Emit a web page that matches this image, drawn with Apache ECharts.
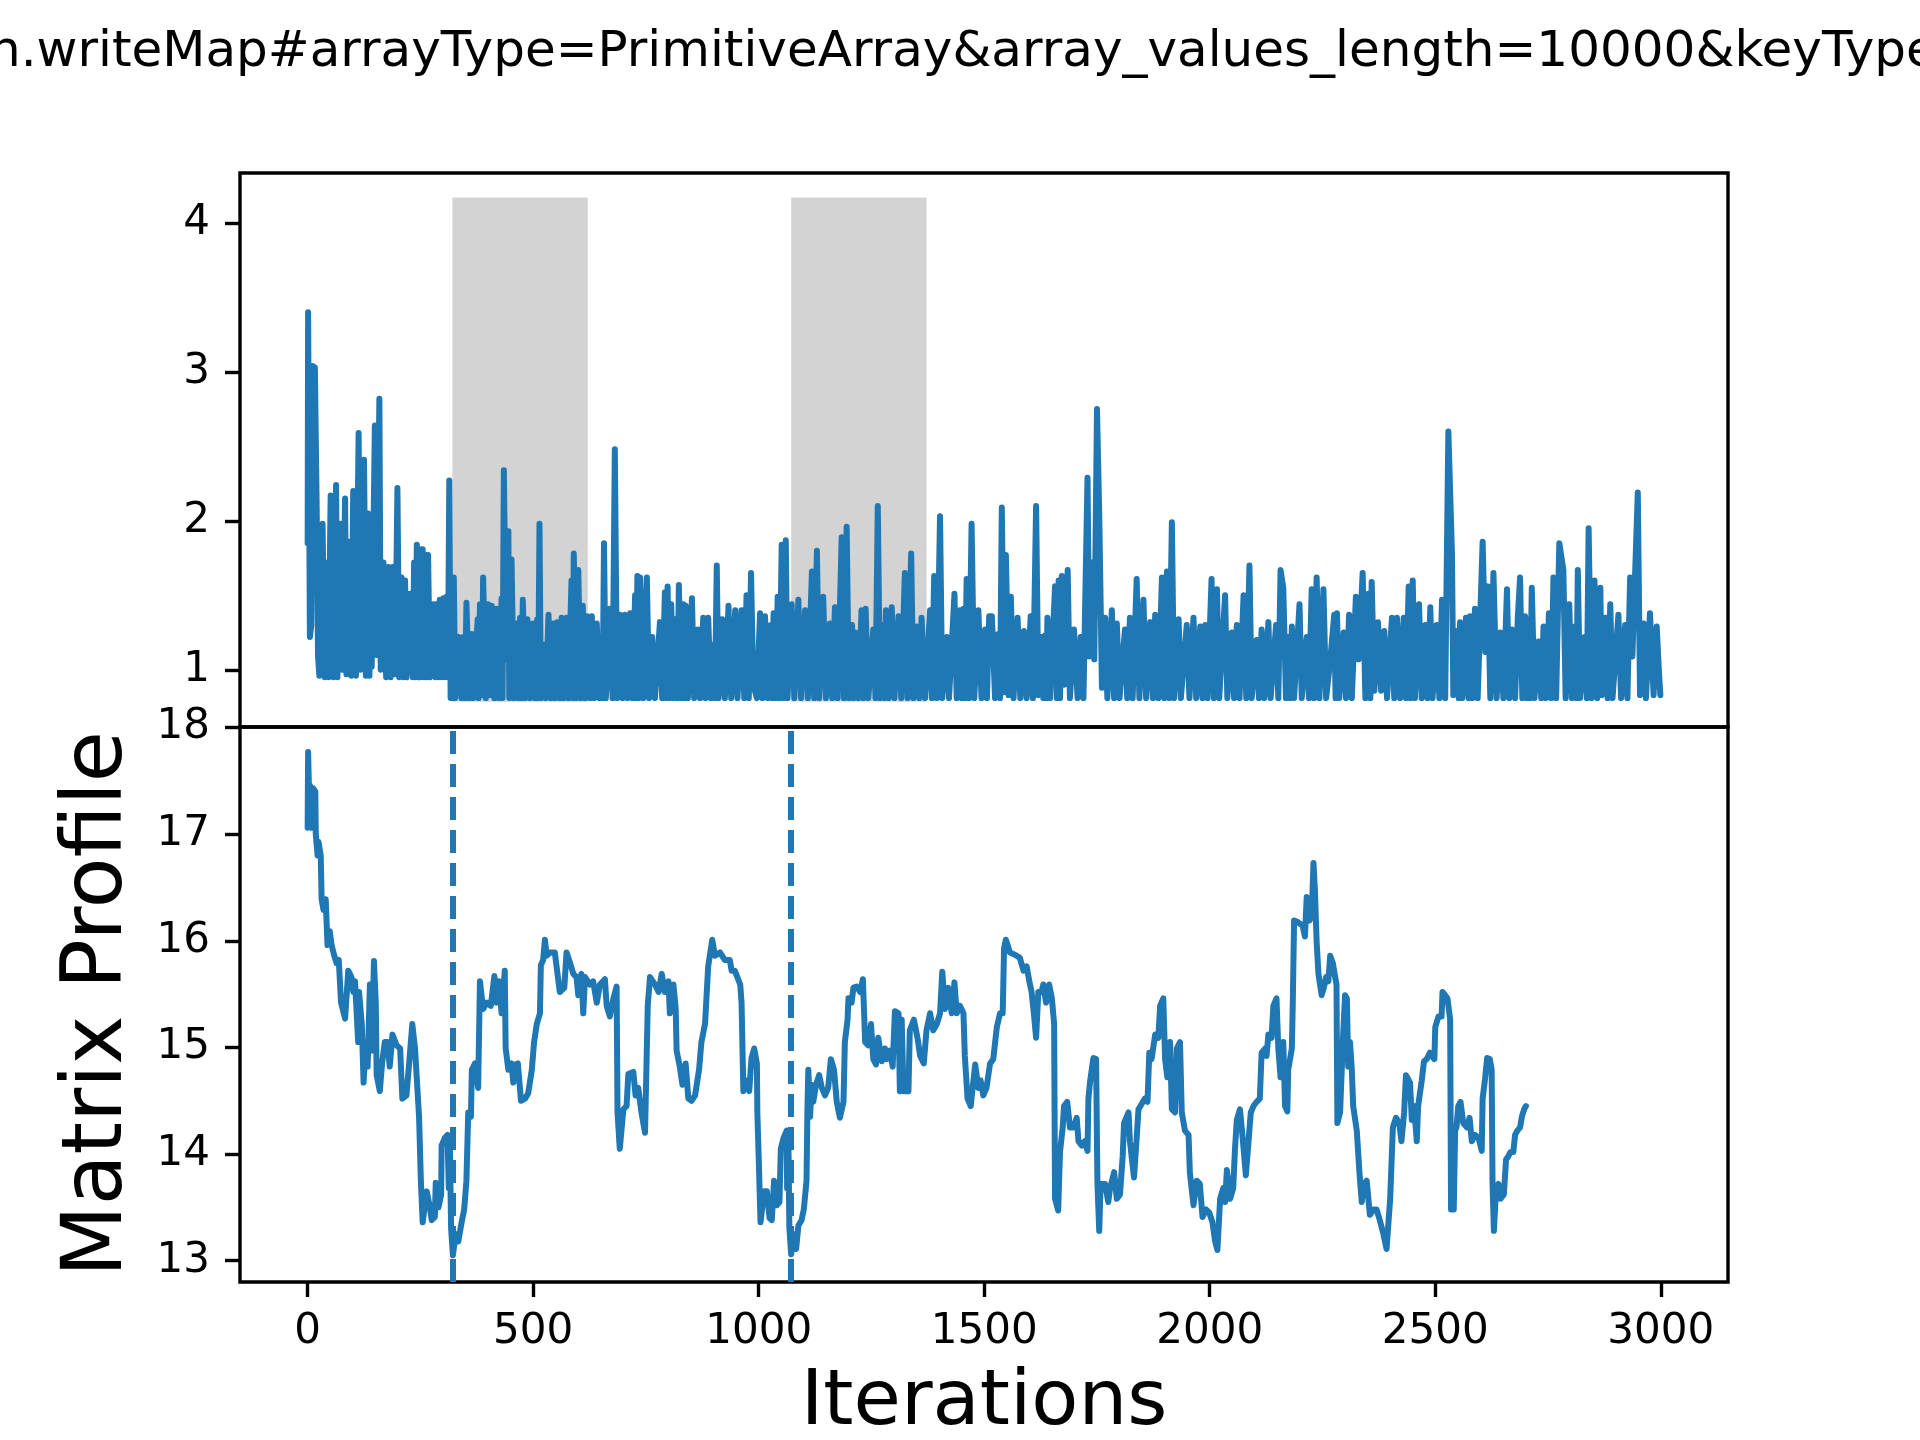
<!DOCTYPE html>
<html>
<head>
<meta charset="utf-8">
<title>Matrix Profile</title>
<script src="https://cdn.jsdelivr.net/npm/echarts/dist/echarts.min.js"></script>
<style>
  html, body { margin: 0; padding: 0; background: #fff; }
  #main { width: 1920px; height: 1440px; }
</style>
</head>
<body>
<div id="main"></div>
<script>
// visible part of the (clipped) figure title
const titleText = 'h.writeMap#arrayType=PrimitiveArray&array_values_length=10000&keyType';

// raw benchmark time series: [iteration, value]
const timeSeries = [
  [0,1.85],[1,3.40],[3,3.40],[5,1.22],[8,1.30],[11,3.04],[16,3.03],[20,2.09],[23,1.09],[26,0.96],
  [33,1.98],[38,0.95],[43,1.72],[46,0.95],[51,2.17],[57,0.95],[63,2.24],[66,0.95],[72,1.98],[77,1.00],
  [83,2.15],[86,0.97],[92,1.86],[97,0.96],[101,2.20],[107,0.96],[113,2.59],[117,1.00],[125,2.41],[129,0.96],
  [134,2.05],[137,0.96],[140,1.96],[142,1.02],[149,2.64],[153,1.10],[159,2.82],[162,1.00],[168,1.72],[174,0.95],
  [179,1.69],[184,0.95],[188,1.69],[194,0.97],[199,2.22],[203,0.95],[208,1.62],[212,0.95],[216,1.60],[219,0.95],
  [227,1.51],[233,0.95],[236,1.72],[239,0.95],[242,1.84],[245,0.95],[248,1.81],[250,0.95],[255,1.81],[258,0.95],
  [260,1.77],[264,0.95],[267,1.77],[271,0.95],[279,1.44],[283,0.95],[286,1.44],[290,0.95],[293,1.47],[297,0.95],
  [301,1.48],[304,0.95],[308,1.49],[311,0.95],[314,2.27],[317,0.81],
  [321,1.60],[322,0.81],[324,1.62],[327,0.81],[334,1.22],[341,0.81],[345,1.22],[349,0.81],[352,1.45],[358,0.81],
  [364,1.24],[367,0.81],[377,1.34],[379,0.81],[382,1.44],[386,0.83],[389,1.62],[395,0.81],[400,1.44],[404,0.83],
  [408,1.43],[414,0.81],[419,1.41],[424,0.81],[430,1.48],[432,0.81],[435,2.34],[440,1.07],[445,1.93],[447,0.81],
  [452,1.74],[457,0.81],[463,1.31],[467,0.81],[471,1.35],[474,0.81],[477,1.47],[482,0.81],[487,1.34],[493,0.81],
  [499,1.31],[504,0.81],[509,1.34],[511,0.81],[514,1.98],[517,0.81],[522,1.17],[528,0.81],[534,1.37],[539,0.81],
  [545,1.31],[548,0.81],[553,1.32],[559,0.81],[563,1.35],[567,0.81],[574,1.35],[578,0.81],[585,1.60],[587,0.81],
  [590,1.78],[595,0.81],[600,1.67],[605,0.81],[610,1.43],[615,0.81],[620,1.36],[626,0.81],[630,1.36],[635,0.81],
  [641,1.31],[647,0.81],[652,1.14],[654,0.81],[657,1.85],[661,0.81],[670,1.41],[676,0.81],[681,2.48],[686,0.81],
  [692,1.37],[698,0.81],[703,1.37],[709,0.81],[715,1.38],[720,0.81],[726,1.50],[728,0.81],[731,1.63],[734,0.81],
  [737,1.62],[744,0.81],
  [752,1.62],[757,0.81],[764,1.22],[770,0.81],[781,1.32],[786,0.81],[792,1.52],[795,0.81],[798,1.56],[802,0.81],
  [806,1.44],[811,0.81],[815,1.34],[820,0.81],[823,1.57],[828,0.81],[833,1.44],[835,0.81],[838,1.43],[843,0.81],
  [852,1.48],[857,0.81],[865,1.27],[870,0.81],[877,1.35],[882,0.81],[888,1.35],[894,0.81],[900,1.17],[903,0.81],
  [907,1.70],[911,0.81],[919,1.34],[925,0.81],[933,1.43],[939,0.81],[948,1.40],[953,0.81],[962,1.40],[968,0.81],
  [973,1.50],[978,0.81],[983,1.65],[988,0.90],[996,0.81],[1003,1.38],[1008,0.81],[1014,1.36],[1020,0.81],[1027,1.30],
  [1030,0.81],[1033,1.38],[1038,0.81],[1042,1.49],[1046,0.81],[1051,1.84],[1055,0.81],[1060,1.87],[1064,0.81],[1073,1.44],
  [1079,0.81],[1088,1.47],[1094,0.81],[1103,1.40],[1109,0.81],[1118,1.66],[1123,0.81],[1129,1.80],[1134,0.81],[1143,1.49],
  [1149,0.81],[1158,1.31],[1163,0.81],[1169,1.42],[1175,0.81],[1184,1.89],[1189,0.81],[1195,1.96],[1200,0.81],[1207,1.30],
  [1210,0.81],[1214,1.25],[1221,0.81],[1228,1.40],[1232,0.81],[1237,1.41],[1243,0.81],[1254,1.27],[1259,0.81],[1264,2.10],
  [1269,0.81],[1276,1.30],[1279,0.81],[1282,1.40],[1288,0.81],[1295,1.42],[1301,0.81],[1310,1.36],[1316,0.81],[1324,1.65],
  [1330,0.81],[1338,1.78],[1343,0.81],[1350,1.29],[1356,0.81],[1361,1.35],[1369,0.81],[1380,1.40],[1384,0.81],[1389,1.63],
  [1395,0.81],[1402,2.03],[1407,0.81],[1417,1.22],[1422,0.81],[1434,1.51],[1439,0.81],[1446,1.40],[1450,0.81],[1454,1.41],
  [1457,0.81],[1461,1.61],[1466,0.81],[1472,1.98],[1478,0.81],[1487,1.40],[1494,0.81],[1502,1.27],[1506,0.81],[1511,1.36],
  [1517,1.36],[1524,0.81],[1531,1.24],[1535,0.81],[1539,2.09],[1544,0.85],[1548,1.77],[1554,0.83],[1559,1.49],[1565,0.81],
  [1574,1.35],[1580,0.81],[1588,1.26],[1594,0.81],[1603,1.36],[1608,0.81],[1615,2.10],[1620,0.83],[1627,1.22],[1631,0.81],
  [1635,1.23],[1638,0.81],[1640,1.35],[1646,0.81],[1657,1.56],[1661,0.81],[1665,1.60],[1668,0.81],[1672,1.63],[1677,0.90],
  [1685,1.67],[1690,0.81],[1699,1.27],[1707,0.81],[1714,1.22],[1720,0.81],[1729,2.29],[1733,1.09],[1738,1.72],[1744,1.07],
  [1750,2.75],[1755,2.04],[1761,0.88],[1768,1.35],[1773,0.81],[1783,1.40],[1788,0.81],[1794,1.31],[1800,0.81],[1812,1.27],
  [1817,0.81],[1823,1.35],[1829,0.81],[1838,1.61],[1844,0.81],[1853,1.47],[1859,0.81],[1868,1.32],[1874,0.81],[1879,1.37],
  [1886,0.81],[1894,1.62],[1899,0.81],[1905,1.66],[1910,0.81],[1916,1.99],[1921,0.81],[1931,1.34],[1936,0.81],[1949,1.30],
  [1955,0.81],[1964,1.35],[1970,0.81],[1979,1.29],[1984,0.81],[1990,1.30],[1995,0.81],[2004,1.61],[2009,0.81],[2016,1.54],
  [2021,0.81],[2034,1.50],[2039,0.81],[2049,1.25],[2054,0.81],[2060,1.30],[2066,0.81],[2075,1.50],[2081,0.81],[2088,1.70],
  [2093,0.81],[2104,1.20],[2109,0.81],[2115,1.27],[2121,0.81],[2130,1.32],[2135,0.81],[2147,1.30],[2152,0.81],[2157,1.67],
  [2163,1.55],[2169,0.81],[2174,1.22],[2178,0.81],[2182,1.29],[2187,0.81],[2199,1.44],[2204,0.81],[2215,1.22],[2220,0.81],
  [2226,1.54],[2231,0.81],[2237,1.62],[2243,0.81],[2252,1.54],[2258,0.81],[2267,1.06],[2276,1.37],[2279,0.81],[2282,1.38],
  [2287,0.81],[2297,1.25],[2302,0.81],[2309,1.37],[2315,0.81],[2324,1.49],[2330,1.07],[2339,1.65],[2345,0.81],[2352,1.51],
  [2356,0.81],[2359,1.59],[2365,0.86],[2373,1.32],[2380,0.86],[2387,1.26],[2393,0.81],[2404,1.35],[2409,0.81],[2415,1.35],
  [2422,0.81],[2430,1.35],[2435,0.81],[2441,1.56],[2445,0.81],[2450,1.60],[2455,0.81],[2464,1.44],[2470,0.81],[2478,1.30],
  [2483,0.81],[2489,1.42],[2494,0.81],[2503,1.30],[2509,0.81],[2515,1.47],[2522,0.81],[2529,2.60],[2537,1.78],[2540,0.83],
  [2548,1.26],[2552,0.81],[2555,1.32],[2560,0.81],[2568,1.35],[2574,0.81],[2577,1.36],[2582,0.81],[2588,1.41],[2594,0.81],
  [2605,1.86],[2611,1.12],[2617,1.56],[2622,0.81],[2629,1.65],[2636,0.81],[2644,1.25],[2651,0.81],[2659,1.54],[2664,0.81],
  [2670,1.27],[2677,0.81],[2683,1.35],[2688,1.62],[2693,0.81],[2699,1.36],[2703,0.81],[2707,1.34],[2710,0.81],[2714,1.55],
  [2720,0.81],[2729,1.19],[2735,0.81],[2740,1.29],[2745,0.81],[2752,1.38],[2757,0.81],[2762,1.62],[2768,0.81],[2775,1.85],
  [2784,1.67],[2789,0.81],[2797,1.44],[2803,0.81],[2809,1.29],[2813,0.81],[2816,1.67],[2821,0.81],[2831,1.22],[2836,0.81],
  [2840,1.95],[2846,0.81],[2853,1.60],[2859,0.81],[2866,1.55],[2869,0.83],[2877,1.35],[2882,0.81],[2888,1.44],[2893,0.81],
  [2906,1.37],[2912,0.81],[2921,1.30],[2926,0.81],[2932,1.62],[2937,1.09],[2949,2.19],[2954,0.83],[2962,1.31],[2967,0.81],
  [2976,1.38],[2984,0.83],[2991,1.29],[2996,0.98],[2999,0.83]
];

// matrix profile of the series: [iteration, distance]
const matrixProfile = [
  [0,17.06],[1,17.77],[3,17.40],[5,17.46],[9,17.06],[12,17.43],[17,17.40],[18,17.00],[22,16.80],[24,16.93],
  [29,16.80],[31,16.39],[35,16.29],[40,16.39],[44,15.96],[49,16.09],[53,15.96],[59,15.86],[64,15.79],[69,15.82],
  [74,15.42],[83,15.27],[86,15.46],[90,15.72],[97,15.66],[101,15.52],[105,15.62],[112,15.05],[114,15.52],[120,15.22],
  [124,14.67],[129,15.05],[133,14.82],[138,15.59],[142,14.97],[147,15.81],[151,15.42],[153,14.74],[160,14.59],[165,14.85],
  [171,15.05],[177,15.05],[182,14.82],[188,15.12],[197,15.02],[205,14.99],[210,14.52],[219,14.55],[225,14.85],[232,15.22],
  [238,14.99],[247,14.35],[251,13.75],[255,13.36],[264,13.65],[271,13.50],[275,13.38],[282,13.41],[284,13.73],[290,13.50],
  [296,13.62],[297,14.08],[304,14.15],[310,14.18],[313,13.68],[315,14.15],[318,13.31],[322,13.05],[328,13.25],[334,13.18],
  [341,13.35],[347,13.48],[352,13.75],[356,14.39],[362,14.35],[364,14.79],[371,14.85],[378,14.62],[382,15.62],[389,15.36],
  [397,15.42],[406,15.39],[414,15.67],[419,15.42],[424,15.62],[430,15.32],[437,15.72],[439,14.99],[445,14.79],[452,14.85],
  [456,14.67],[461,14.84],[466,14.85],[473,14.50],[482,14.52],[489,14.57],[497,14.79],[502,15.05],[508,15.22],[515,15.32],
  [517,15.77],[522,15.82],[526,16.01],[530,15.86],[537,15.89],[548,15.89],[559,15.52],[569,15.56],[574,15.89],[582,15.79],
  [589,15.69],[596,15.66],[600,15.49],[607,15.69],[611,15.32],[615,15.66],[626,15.59],[633,15.62],[641,15.42],[648,15.59],
  [659,15.64],[663,15.39],[670,15.29],[678,15.46],[685,15.57],[687,14.39],[692,14.05],[700,14.42],[707,14.45],[711,14.75],
  [722,14.77],[727,14.55],[733,14.62],[740,14.39],[748,14.20],[754,15.39],[759,15.66],[770,15.59],[778,15.52],[785,15.69],
  [792,15.52],[800,15.62],[803,15.32],[811,15.59],[816,15.36],[818,14.97],[825,14.82],[831,14.65],[838,14.85],[844,14.52],
  [851,14.50],[859,14.55],[868,14.80],[873,15.05],[881,15.22],[888,15.76],[897,16.01],[903,15.86],[914,15.89],[925,15.82],
  [936,15.82],[940,15.72],[947,15.72],[959,15.59],[962,15.42],[966,14.59],[973,14.69],[979,14.59],[984,14.90],[990,14.99],
  [996,14.85],[997,14.39],[1001,13.82],[1004,13.36],[1012,13.65],[1018,13.65],[1024,13.40],[1029,13.38],[1034,13.75],[1040,13.52],
  [1046,13.55],[1049,14.05],[1055,14.15],[1062,14.22],[1063,13.68],[1066,14.08],[1068,13.31],[1072,13.06],[1077,13.25],[1083,13.11],
  [1088,13.33],[1095,13.38],[1100,13.48],[1106,13.75],[1108,14.42],[1110,14.79],[1114,14.35],[1117,14.65],[1121,14.49],[1127,14.65],
  [1134,14.74],[1140,14.62],[1147,14.55],[1154,14.62],[1160,14.89],[1167,14.79],[1173,14.49],[1180,14.34],[1188,14.49],[1191,15.05],
  [1197,15.26],[1199,15.46],[1206,15.42],[1210,15.56],[1217,15.57],[1225,15.52],[1231,15.64],[1236,15.05],[1243,15.02],[1249,15.22],
  [1254,14.89],[1260,14.84],[1265,15.09],[1273,14.87],[1280,14.99],[1284,14.89],[1291,14.97],[1297,14.82],[1302,15.34],[1310,15.32],
  [1313,14.59],[1317,15.26],[1321,14.59],[1332,14.59],[1335,15.16],[1344,15.26],[1352,15.09],[1358,14.92],[1366,14.85],[1372,15.16],
  [1380,15.32],[1387,15.16],[1395,15.22],[1402,15.32],[1407,15.71],[1413,15.36],[1420,15.56],[1428,15.32],[1434,15.61],[1439,15.32],
  [1446,15.39],[1454,15.32],[1457,14.92],[1463,14.52],[1470,14.45],[1480,14.84],[1487,14.62],[1492,14.69],[1498,14.55],[1505,14.62],
  [1513,14.85],[1520,14.89],[1528,15.19],[1535,15.32],[1541,15.32],[1544,15.93],[1548,16.01],[1557,15.89],[1568,15.87],[1579,15.84],
  [1587,15.72],[1594,15.76],[1600,15.62],[1605,15.52],[1610,15.32],[1615,15.09],[1620,15.52],[1627,15.52],[1631,15.59],[1637,15.42],
  [1644,15.59],[1650,15.46],[1655,15.22],[1657,13.58],[1664,13.47],[1668,14.02],[1674,14.25],[1677,14.45],[1684,14.49],[1690,14.25],
  [1698,14.25],[1705,14.34],[1709,14.12],[1716,14.08],[1723,14.12],[1729,14.03],[1731,14.52],[1735,14.69],[1742,14.90],[1748,14.89],
  [1751,13.72],[1755,13.28],[1758,13.72],[1768,13.72],[1775,13.55],[1779,13.68],[1788,13.83],[1794,13.58],[1801,13.62],[1807,13.98],
  [1810,14.29],[1816,14.35],[1820,14.39],[1823,14.12],[1832,13.78],[1838,14.15],[1842,14.42],[1849,14.47],[1856,14.52],[1862,14.49],
  [1866,14.95],[1871,14.89],[1879,15.12],[1886,15.09],[1890,15.39],[1897,15.46],[1901,14.89],[1906,14.72],[1912,15.05],[1916,14.42],
  [1923,14.39],[1927,14.99],[1934,15.05],[1938,14.39],[1945,14.22],[1953,14.18],[1956,13.82],[1964,13.52],[1971,13.75],[1978,13.72],
  [1984,13.41],[1992,13.48],[1999,13.45],[2006,13.36],[2012,13.18],[2017,13.10],[2023,13.58],[2030,13.68],[2034,13.55],[2038,13.85],
  [2045,13.58],[2052,13.68],[2056,14.05],[2060,14.32],[2067,14.42],[2073,14.15],[2080,13.80],[2086,14.12],[2091,14.39],[2097,14.45],
  [2104,14.49],[2111,14.52],[2115,14.95],[2123,14.99],[2126,14.92],[2130,15.12],[2137,15.09],[2141,15.39],[2148,15.46],[2152,14.99],
  [2157,14.72],[2163,15.05],[2167,14.45],[2172,14.40],[2174,14.79],[2182,14.99],[2184,15.39],[2187,16.19],[2193,16.18],[2200,16.16],
  [2206,16.14],[2211,16.04],[2215,16.41],[2221,16.19],[2226,16.23],[2230,16.73],[2233,16.49],[2237,15.99],[2241,15.69],[2248,15.49],
  [2253,15.56],[2258,15.66],[2263,15.62],[2267,15.86],[2273,15.79],[2278,15.66],[2281,15.59],[2283,14.29],[2289,14.39],[2295,15.05],
  [2300,15.49],[2304,15.46],[2307,14.82],[2311,15.05],[2315,14.79],[2318,14.45],[2326,14.22],[2332,13.82],[2337,13.55],[2342,13.72],
  [2348,13.75],[2355,13.43],[2363,13.48],[2370,13.48],[2377,13.38],[2385,13.25],[2392,13.11],[2400,13.58],[2406,14.25],[2413,14.34],
  [2420,14.29],[2425,14.12],[2431,14.39],[2435,14.74],[2444,14.67],[2448,14.32],[2453,14.45],[2459,14.12],[2462,14.45],[2470,14.69],
  [2475,14.87],[2481,14.89],[2488,14.95],[2498,14.89],[2500,15.19],[2507,15.29],[2514,15.29],[2516,15.52],[2522,15.49],[2527,15.46],
  [2533,15.26],[2535,13.48],[2541,13.48],[2544,14.22],[2547,14.25],[2551,14.45],[2556,14.49],[2562,14.29],[2570,14.25],[2576,14.34],
  [2581,14.12],[2588,14.18],[2596,14.15],[2603,14.03],[2605,14.52],[2610,14.69],[2615,14.90],[2621,14.89],[2625,14.79],[2627,13.72],
  [2630,13.28],[2635,13.68],[2640,13.72],[2645,13.58],[2652,13.62],[2657,13.95],[2662,13.98],[2667,14.02],[2673,14.02],[2677,14.18],
  [2682,14.22],[2688,14.25],[2692,14.35],[2697,14.42],[2701,14.45]
];

// motif pair (start iterations) and window length
const motifStarts = [321, 1072];
const motifLength = 300;
const motifBoxLow = 0.785;
const motifBoxHigh = 4.17;

// tick labels
const xTicks = [0, 500, 1000, 1500, 2000, 2500, 3000];
const topTicks = [1, 2, 3, 4];
const bottomTicks = [13, 14, 15, 16, 17, 18];

const BLUE = '#1f77b4';
const FONT = 'DejaVu Sans';
const SPINE = 3.4;

const chart = echarts.init(document.getElementById('main'));

function yAxisFor(gridIndex, min, max, ticks) {
  return {
    type: 'value', gridIndex: gridIndex, min: min, max: max,
    axisLine: { show: false, onZero: false },
    splitLine: { show: false },
    axisTick: { show: true, length: 15, customValues: ticks,
      lineStyle: { color: '#000', width: SPINE } },
    axisLabel: { show: true, customValues: ticks, margin: 30,
      fontFamily: FONT, fontSize: 42, color: '#000',
      formatter: v => String(v) }
  };
}

const option = {
  animation: false,
  backgroundColor: '#fff',
  grid: [
    { left: 240, right: 192, top: 173, height: 554, show: true,
      borderColor: '#000', borderWidth: SPINE, backgroundColor: 'transparent' },
    { left: 240, right: 192, top: 727, height: 555, show: true,
      borderColor: '#000', borderWidth: SPINE, backgroundColor: 'transparent' }
  ],
  xAxis: [
    { type: 'value', gridIndex: 0, min: -150, max: 3149,
      axisLine: { show: false, onZero: false }, axisTick: { show: false },
      axisLabel: { show: false }, splitLine: { show: false } },
    { type: 'value', gridIndex: 1, min: -150, max: 3149,
      axisLine: { show: false, onZero: false }, splitLine: { show: false },
      axisTick: { show: true, length: 15, customValues: xTicks,
        lineStyle: { color: '#000', width: SPINE } },
      axisLabel: { show: true, customValues: xTicks, margin: 29,
        fontFamily: FONT, fontSize: 42, color: '#000',
        formatter: v => String(v) } }
  ],
  yAxis: [
    yAxisFor(0, 0.616, 4.335, topTicks),
    yAxisFor(1, 12.8, 18.005, bottomTicks)
  ],
  series: [
    {
      name: 'series', type: 'line', xAxisIndex: 0, yAxisIndex: 0,
      data: timeSeries, showSymbol: false, symbol: 'none', z: 3,
      lineStyle: { color: BLUE, width: 6, join: 'round', cap: 'round' },
      markArea: {
        silent: true,
        itemStyle: { color: '#d3d3d3', opacity: 1 },
        data: motifStarts.map(s => [
          { xAxis: s, yAxis: motifBoxLow },
          { xAxis: s + motifLength, yAxis: motifBoxHigh }
        ])
      }
    },
    {
      name: 'profile', type: 'line', xAxisIndex: 1, yAxisIndex: 1,
      data: matrixProfile, showSymbol: false, symbol: 'none', z: 3,
      lineStyle: { color: BLUE, width: 6, join: 'round', cap: 'round' },
      markLine: {
        silent: true, symbol: ['none', 'none'],
        label: { show: false },
        lineStyle: { color: BLUE, width: 6, type: [23, 10] },
        data: motifStarts.map(s => ({ xAxis: s }))
      }
    }
  ],
  graphic: [
    { type: 'text', x: -11, y: 28,
      style: { text: titleText, font: '50px "DejaVu Sans"', fill: '#000',
        textAlign: 'left', textVerticalAlign: 'top' } },
    { type: 'text', x: 99, y: 1004, rotation: Math.PI / 2,
      style: { text: 'Matrix Profile', font: '83px "DejaVu Sans"', fill: '#000',
        textAlign: 'center', textVerticalAlign: 'middle' } },
    { type: 'text', x: 984, y: 1404,
      style: { text: 'Iterations', font: '77px "DejaVu Sans"', fill: '#000',
        textAlign: 'center', textVerticalAlign: 'middle' } }
  ]
};

chart.setOption(option);
</script>
</body>
</html>
